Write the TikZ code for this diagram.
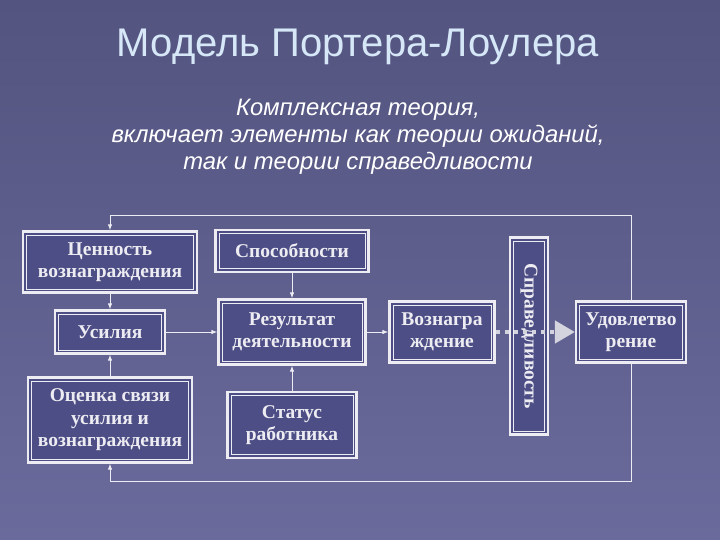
\documentclass[tikz,border=0pt]{standalone}
\usepackage{fontspec}
\setmainfont{Liberation Serif}
\setsansfont{Liberation Sans}
\usepackage{tikz}
\usepackage{xcolor}
\usetikzlibrary{arrows.meta}

\definecolor{bgtop}{RGB}{84,84,128}
\definecolor{bgbot}{RGB}{106,106,156}
\definecolor{boxfill}{RGB}{78,78,134}
\definecolor{edge}{RGB}{236,236,242}
\definecolor{dotcol}{RGB}{212,212,222}
\definecolor{titlecol}{RGB}{214,232,247}

\tikzset{
  dbox/.style={draw=edge, line width=2.2pt, fill=boxfill, text=edge, align=center, inner sep=0pt,
    font=\bfseries\fontsize{19.5}{22.5}\selectfont,
    path picture={\draw[edge, line width=0.8pt]
      ([shift={(3.6pt,3.6pt)}]path picture bounding box.south west) rectangle
      ([shift={(-3.6pt,-3.6pt)}]path picture bounding box.north east);}},
  link/.style={draw=edge, line width=1pt, -{Latex[length=6pt,width=4.5pt]}},
}

\begin{document}
\begin{tikzpicture}[x=1pt,y=-1pt]
                \shade[top color=bgtop, bottom color=bgbot] (0,0) rectangle (720,540);
                \useasboundingbox (0,0) rectangle (720,540);
                \node[text=titlecol, font=\sffamily\fontsize{40}{48}\selectfont] (title) at (358,47) {Модель Портера-Лоулера};
                \node[text=white, align=center, font=\sffamily\itshape\fontsize{23.8}{27}\selectfont] (sub) at (358,137)
                    {Комплексная теория,\\включает элементы как теории ожиданий,\\так и теории справедливости};
                % boxes
                \node[dbox, minimum width=174, minimum height=61] (val) at (110,262) {Ценность\\вознаграждения};
                \node[dbox, minimum width=153, minimum height=42] (abil) at (292,251) {Способности};
                \node[dbox, minimum width=110, minimum height=43] (eff) at (110,332) {Усилия};
                \node[dbox, minimum width=147, minimum height=65] (res) at (292,332) {Результат\\деятельности};
                \node[dbox, minimum width=164, minimum height=85] (est) at (110,420) {Оценка связи\\усилия и\\вознаграждения};
                \node[dbox, minimum width=129, minimum height=66] (stat) at (292,425) {Статус\\работника};
                \node[dbox, minimum width=105, minimum height=61] (rew) at (442,332) {Вознагра\\ждение};
                \node[dbox, minimum width=38, minimum height=197] (just) at (529,336) {\rotatebox[origin=c]{-90}{Справедливость}};
                \node[dbox, minimum width=110, minimum height=61] (sat) at (631,332) {Удовлетво\\рение};
                \coordinate (fbtop) at (631,216);
                \coordinate (fbbot) at (631,481);
                % links
                \draw[link] (val) -- (eff);
                \draw[link] (abil) -- (res);
                \draw[link] (est) -- (eff);
                \draw[link] (stat) -- (res);
                \draw[link] (eff) -- (res);
                \draw[link] (res) -- (rew);
                \draw[link] (sat.north) -- (fbtop) -| (val.north);
                \draw[link] (sat.south) -- (fbbot) -| (est.south);
                \draw[dotcol, line width=4.5pt, dash pattern=on 4.5pt off 4.5pt,
                    -{Triangle[length=20pt,width=22pt]}] (rew.east) -- (sat.west);
            \end{tikzpicture}
\end{document}
